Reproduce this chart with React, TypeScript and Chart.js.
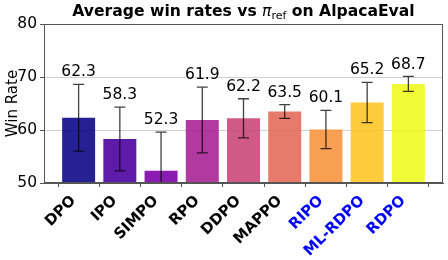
import React, { useEffect, useRef } from "react";
import { Chart, registerables } from "chart.js";
Chart.register(...registerables);

const categories = ["DPO", "IPO", "SIMPO", "RPO", "DDPO", "MAPPO", "RIPO", "ML-RDPO", "RDPO"];
const winRates = [62.3, 58.3, 52.3, 61.9, 62.2, 63.5, 60.1, 65.2, 68.7];
const errors = [6.3, 6.0, 7.3, 6.2, 3.7, 1.3, 3.6, 3.8, 1.4];
const labelColors = ["#000000", "#000000", "#000000", "#000000", "#000000", "#000000", "#0000ff", "#0000ff", "#0000ff"];
const barColors = [
  "rgba(13,8,135,0.9)",
  "rgba(76,2,161,0.9)",
  "rgba(126,3,168,0.9)",
  "rgba(169,35,149,0.9)",
  "rgba(204,71,120,0.9)",
  "rgba(230,108,92,0.9)",
  "rgba(248,149,64,0.9)",
  "rgba(253,197,39,0.9)",
  "rgba(240,249,33,0.9)",
];
const yTicks = [50, 60, 70, 80];
const FONT = "'DejaVu Sans', sans-serif";

const overlay = {
  id: "overlay",
  afterDatasetsDraw(chart: any) {
    const ctx = chart.ctx;
    const y = chart.scales.y;
    const area = chart.chartArea;
    const meta = chart.getDatasetMeta(0);
    ctx.save();
    ctx.beginPath();
    ctx.rect(area.left, area.top, area.right - area.left, area.bottom - area.top);
    ctx.clip();
    ctx.strokeStyle = "rgba(0,0,0,0.75)";
    ctx.lineWidth = 1.3;
    meta.data.forEach((bar: any, i: number) => {
      const x = bar.x;
      const yt = y.getPixelForValue(winRates[i] + errors[i]);
      const yb = y.getPixelForValue(winRates[i] - errors[i]);
      ctx.beginPath();
      ctx.moveTo(x, yt);
      ctx.lineTo(x, yb);
      ctx.moveTo(x - 5.5, yt);
      ctx.lineTo(x + 5.5, yt);
      ctx.moveTo(x - 5.5, yb);
      ctx.lineTo(x + 5.5, yb);
      ctx.stroke();
    });
    ctx.restore();
    ctx.save();
    ctx.fillStyle = "#000";
    ctx.font = `15.5px ${FONT}`;
    ctx.textAlign = "center";
    ctx.textBaseline = "middle";
    meta.data.forEach((bar: any, i: number) => {
      const yt = y.getPixelForValue(winRates[i] + errors[i]);
      ctx.fillText(winRates[i].toFixed(1), bar.x, yt - 12);
    });
    ctx.restore();
  },
  afterDraw(chart: any) {
    const ctx = chart.ctx;
    const area = chart.chartArea;
    ctx.save();
    ctx.strokeStyle = "#555";
    ctx.lineWidth = 1;
    ctx.strokeRect(area.left + 0.5, area.top + 0.5, area.right - area.left - 1, area.bottom - area.top - 1);
    // title
    const parts = [
      { t: "Average win rates vs ", f: `bold 15.6px ${FONT}`, dy: 0 },
      { t: "π", f: `italic 15.6px ${FONT}`, dy: 0 },
      { t: "ref", f: `11px ${FONT}`, dy: 3 },
      { t: " on AlpacaEval", f: `bold 15.6px ${FONT}`, dy: 0 },
    ];
    let total = 0;
    parts.forEach((p) => {
      ctx.font = p.f;
      total += ctx.measureText(p.t).width;
    });
    let x = (area.left + area.right) / 2 - total / 2;
    const base = 16;
    ctx.fillStyle = "#000";
    ctx.textBaseline = "alphabetic";
    ctx.textAlign = "left";
    parts.forEach((p) => {
      ctx.font = p.f;
      ctx.fillText(p.t, x, base + p.dy);
      x += ctx.measureText(p.t).width;
    });
    ctx.restore();
  },
};

export default function App() {
  const ref = useRef<HTMLCanvasElement | null>(null);
  useEffect(() => {
    if (!ref.current) return;
    const chart = new Chart(ref.current, {
      type: "bar",
      data: {
        datasets: [
          {
            data: winRates.map((v, i) => ({ x: i, y: v })),
            backgroundColor: barColors,
            borderWidth: 0,
            barPercentage: 0.8,
            categoryPercentage: 1.0,
          },
        ],
      },
      options: {
        animation: false,
        responsive: false,
        maintainAspectRatio: false,
        layout: { padding: { top: 24, right: 5, left: 0, bottom: 0 } },
        plugins: { legend: { display: false }, tooltip: { enabled: false }, title: { display: false } },
        scales: {
          x: {
            type: "linear",
            offset: false,
            min: -0.84,
            max: 8.84,
            afterBuildTicks: (axis: any) => {
              axis.ticks = categories.map((_, i) => ({ value: i }));
            },
            afterFit: (axis: any) => {
              axis.height = 77;
            },
            grid: { drawOnChartArea: false, drawTicks: true, tickLength: 4, tickColor: "#555" },
            border: { display: true, color: "#555" },
            ticks: {
              autoSkip: false,
              maxRotation: 45,
              minRotation: 45,
              padding: 5,
              labelOffset: -5,
              font: { family: FONT, size: 15, weight: "bold" },
              color: (c: any) => labelColors[c.index] || "#000",
              callback: (v: any) => categories[v] ?? "",
            },
          },
          y: {
            min: 50,
            max: 80,
            afterBuildTicks: (axis: any) => {
              axis.ticks = yTicks.map((v) => ({ value: v }));
            },
            afterFit: (axis: any) => {
              axis.width = 44;
            },
            grid: {
              color: (c: any) => (c.tick && c.tick.value === 50 ? "rgba(0,0,0,0)" : "#c4c4c4"),
              lineWidth: 0.8,
              borderDash: [1, 1.5],
              tickBorderDash: [],
              tickColor: "#555",
              tickWidth: 1,
              tickLength: 4,
              drawTicks: true,
            },
            border: { display: true, color: "#555" },
            ticks: {
              padding: 3,
              color: "#000",
              font: { family: FONT, size: 15.5 },
            },
            title: {
              display: true,
              text: "Win Rate",
              color: "#000",
              font: { family: FONT, size: 15 },
              padding: { top: 4, bottom: 0 },
            },
          },
        },
      },
      plugins: [overlay],
    });
    return () => chart.destroy();
  }, []);
  return (
    <div style={{ position: "fixed", left: 0, top: 0, width: 448, height: 260, background: "#fff" }}>
      <canvas ref={ref} width={448} height={260} style={{ width: 448, height: 260, display: "block" }} />
    </div>
  );
}
